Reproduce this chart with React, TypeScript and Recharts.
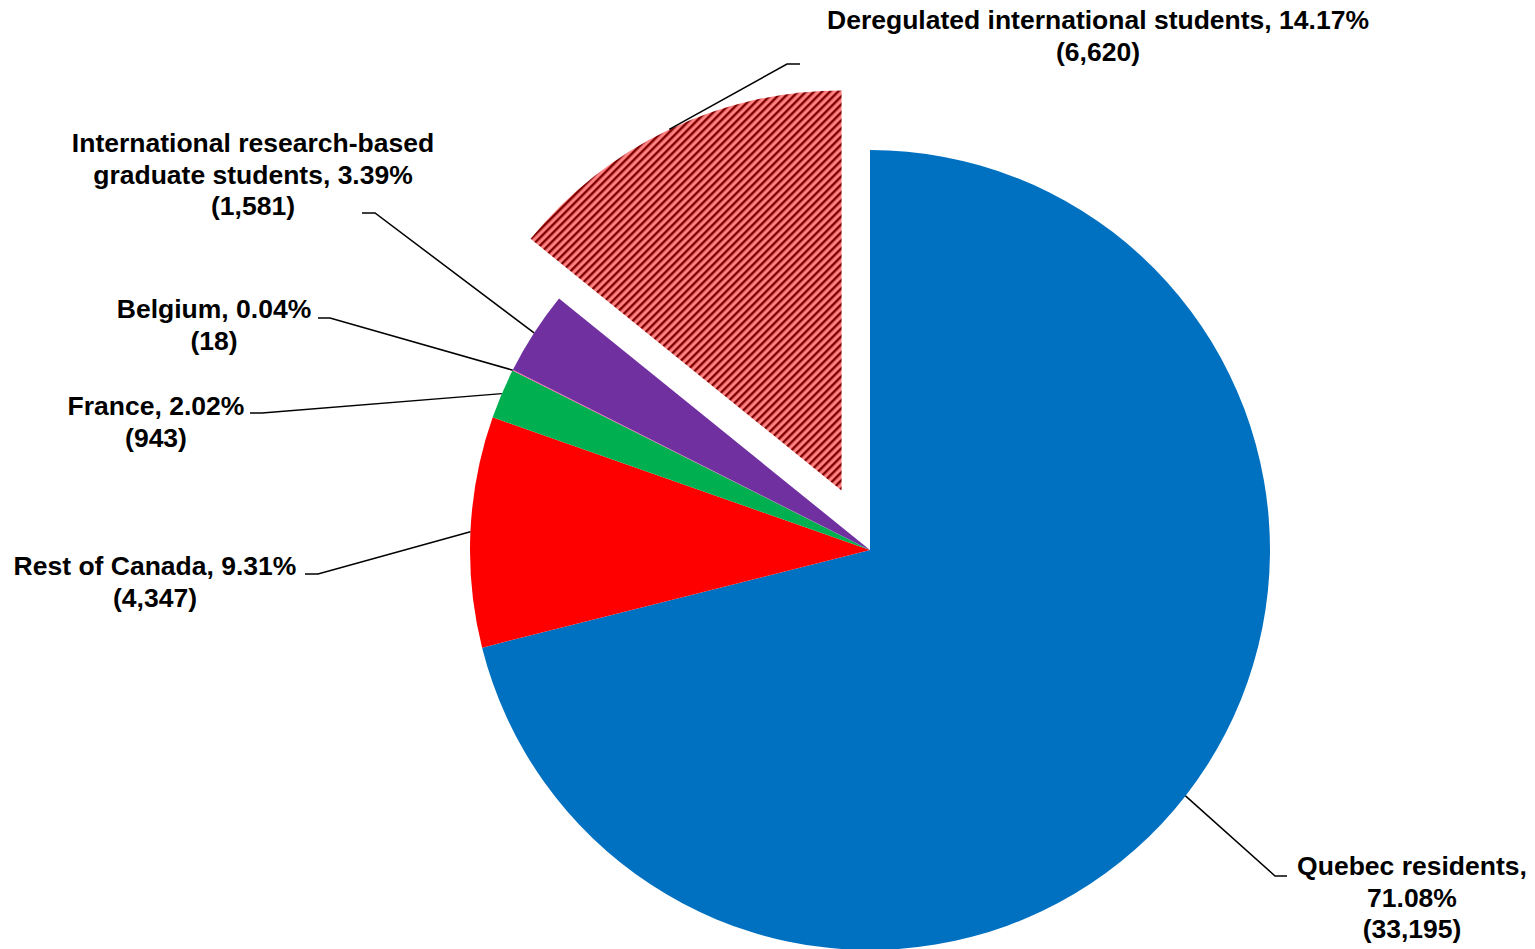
import { Cell, Pie, PieChart } from "recharts";

const CATEGORIES = [
  "Quebec residents",
  "Rest of Canada",
  "France",
  "Belgium",
  "International research-based graduate students",
  "Deregulated international students",
];
const STUDENTS = [33195, 4347, 943, 18, 1581, 6620];
const COLORS = ["#0070C0", "#FF0000", "#00B050", "#FF4FA0", "#7030A0", "url(#hatch)"];
const EXPLODED_INDEX = 5;

// where each leader line bends, where its short tail ends, and the centre of the label text
const LABEL_LAYOUT = [
  { elbow: [1275, 876], end: [1287, 876], tx: 1412, ty: 866, breaks: [2, 1] },
  { elbow: [318, 574], end: [305, 574], tx: 155, ty: 566, breaks: [] },
  { elbow: [262, 413], end: [250, 413], tx: 156, ty: 406, breaks: [] },
  { elbow: [330, 318], end: [318, 318], tx: 214, ty: 309, breaks: [] },
  { elbow: [375, 213], end: [362, 213], tx: 253, ty: 143, breaks: [2, 3] },
  { elbow: [787, 64], end: [800, 64], tx: 1098, ty: 20, breaks: [] },
];

const W = 1535;
const H = 949;
const CX = 870;
const CY = 550;
const R = 400;
const EXPLODE = 66;
const LINE_H = 31.5;
const FONT_SIZE = 26.5;
const HATCH = 8 / Math.SQRT2;
const RAD = Math.PI / 180;

const rows = CATEGORIES.map((name, i) => ({ name, value: STUDENTS[i] }));
const total = STUDENTS.reduce((a, b) => a + b, 0);
const before = STUDENTS.slice(0, EXPLODED_INDEX).reduce((a, b) => a + b, 0);
const explodedMid = 90 - ((before + STUDENTS[EXPLODED_INDEX] / 2) / total) * 360;
const CX2 = CX + EXPLODE * Math.cos(explodedMid * RAD);
const CY2 = CY - EXPLODE * Math.sin(explodedMid * RAD);

function labelLines(i: number): string[] {
  const pct = ((STUDENTS[i] / total) * 100).toFixed(2);
  const words = `${CATEGORIES[i]}, ${pct}%`.split(" ");
  const lines: string[] = [];
  let k = 0;
  for (const n of LABEL_LAYOUT[i].breaks) {
    lines.push(words.slice(k, k + n).join(" "));
    k += n;
  }
  if (k < words.length) lines.push(words.slice(k).join(" "));
  lines.push(`(${STUDENTS[i].toLocaleString("en-US")})`);
  return lines;
}

function makeLabel(show: (i: number) => boolean) {
  return (props: any) => {
    const { cx, cy, midAngle, outerRadius, index } = props;
    if (!show(index)) return null;
    const lay = LABEL_LAYOUT[index];
    const px = cx + outerRadius * Math.cos(-midAngle * RAD);
    const py = cy + outerRadius * Math.sin(-midAngle * RAD);
    return (
      <g key={`lbl-${index}`}>
        <polyline
          points={`${px},${py} ${lay.elbow[0]},${lay.elbow[1]} ${lay.end[0]},${lay.end[1]}`}
          fill="none"
          stroke="#000"
          strokeWidth={1.5}
        />
        {labelLines(index).map((t, j) => (
          <text
            key={j}
            x={lay.tx}
            y={lay.ty + j * LINE_H}
            textAnchor="middle"
            dominantBaseline="central"
            fontFamily="'Liberation Sans', Arial, sans-serif"
            fontWeight="bold"
            fontSize={FONT_SIZE}
            fill="#000"
          >
            {t}
          </text>
        ))}
      </g>
    );
  };
}

export default function App() {
  return (
    <div style={{ width: W, height: H, background: "#fff" }}>
      <style>{"body{margin:0}"}</style>
      <PieChart width={W} height={H} margin={{ top: 0, right: 0, bottom: 0, left: 0 }}>
        <defs>
          <pattern
            id="hatch"
            patternUnits="userSpaceOnUse"
            width={HATCH}
            height={HATCH}
            patternTransform="rotate(45)"
          >
            <rect width={HATCH} height={HATCH} fill="#FF8080" />
            <rect width={2.4} height={HATCH} fill="#800000" />
          </pattern>
        </defs>
        <Pie
          data={rows}
          dataKey="value"
          nameKey="name"
          cx={CX}
          cy={CY}
          outerRadius={R}
          startAngle={90}
          endAngle={-270}
          stroke="none"
          labelLine={false}
          label={makeLabel((i) => i !== EXPLODED_INDEX)}
          isAnimationActive={false}
        >
          {rows.map((r, i) => (
            <Cell key={r.name} fill={i === EXPLODED_INDEX ? "none" : COLORS[i]} stroke="none" />
          ))}
        </Pie>
        <Pie
          data={rows}
          dataKey="value"
          nameKey="name"
          cx={CX2}
          cy={CY2}
          outerRadius={R}
          startAngle={90}
          endAngle={-270}
          stroke="none"
          labelLine={false}
          label={makeLabel((i) => i === EXPLODED_INDEX)}
          isAnimationActive={false}
        >
          {rows.map((r, i) => (
            <Cell key={r.name} fill={i === EXPLODED_INDEX ? COLORS[i] : "none"} stroke="none" />
          ))}
        </Pie>
      </PieChart>
    </div>
  );
}
